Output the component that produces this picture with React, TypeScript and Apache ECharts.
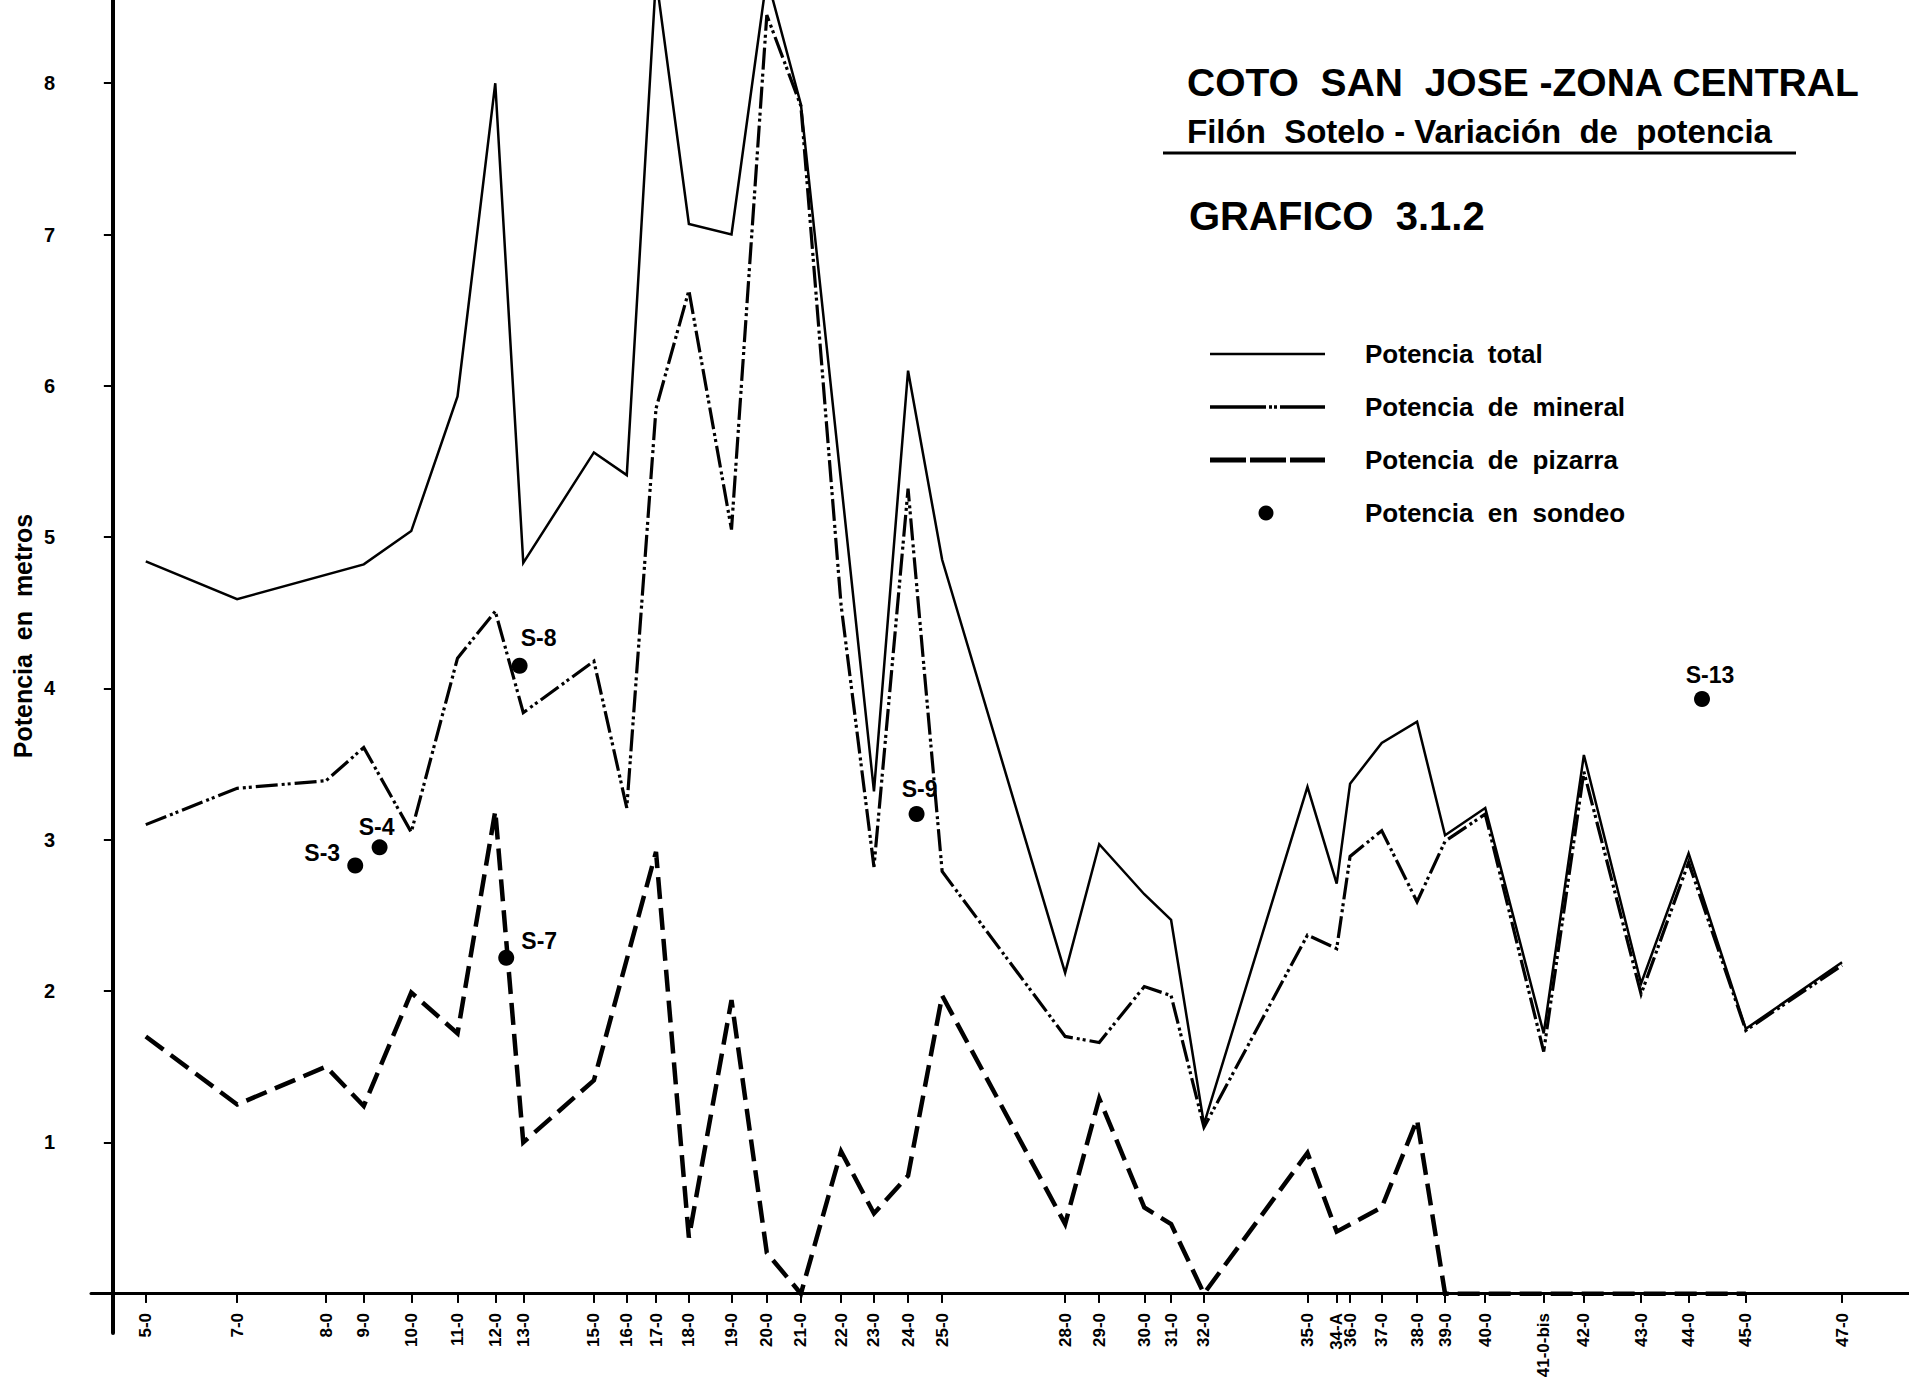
import React, { useEffect, useRef } from "react";
import * as echarts from "echarts";

// Stations along the vein and their position on the horizontal distance scale
const stations = [
  "5-0", "7-0", "8-0", "9-0", "10-0", "11-0", "12-0", "13-0", "15-0", "16-0",
  "17-0", "18-0", "19-0", "20-0", "21-0", "22-0", "23-0", "24-0", "25-0", "28-0",
  "29-0", "30-0", "31-0", "32-0", "35-0", "34-A", "36-0", "37-0", "38-0", "39-0",
  "40-0", "41-0-bis", "42-0", "43-0", "44-0", "45-0", "47-0",
];
const stationPos = [
  27, 102, 175, 206, 245, 283, 314, 337, 395, 422,
  446, 473, 508, 537, 565, 598, 625, 653, 681, 782,
  810, 847, 869, 896, 981, 1005, 1016, 1042, 1071, 1094,
  1127, 1175, 1208, 1255, 1294, 1341, 1420,
];

// Thickness in metres at each station (null = no reading at that station)
const potenciaTotal = [
  4.84, 4.59, null, 4.82, 5.04, 5.93, 8.0, 4.83, 5.56, 5.41,
  8.7, 7.07, 7.0, 8.7, 7.86, null, 3.32, 6.1, 4.85, 2.12,
  2.97, 2.64, 2.47, 1.12, 3.35, 2.71, 3.37, 3.64, 3.78, 3.03,
  3.21, 1.72, 3.56, 2.05, 2.91, 1.75, 2.19,
];
const potenciaMineral = [
  3.1, 3.34, 3.39, 3.61, 3.05, 4.2, 4.51, 3.84, 4.18, 3.21,
  5.85, 6.63, 5.05, 8.45, 7.85, 4.55, 2.82, 5.32, 2.79, 1.7,
  1.66, 2.03, 1.97, 1.1, 2.37, 2.28, 2.89, 3.06, 2.59, 2.99,
  3.17, 1.6, 3.45, 1.98, 2.85, 1.74, 2.17,
];
const potenciaPizarra = [
  1.7, 1.25, 1.5, 1.24, 1.99, 1.72, 3.19, 1.0, 1.41, null,
  2.92, 0.37, 1.94, 0.27, 0, 0.94, 0.53, 0.78, 1.97, 0.46,
  1.29, 0.57, 0.46, 0, 0.93, 0.41, null, 0.57, 1.15, 0,
  0, 0, 0, 0, 0, 0, null,
];

// Drill holes
const sondeoNames = ["S-3", "S-4", "S-8", "S-7", "S-9", "S-13"];
const sondeoPos = [199, 219, 334, 323, 660, 1305];
const sondeoValues = [2.83, 2.95, 4.15, 2.22, 3.17, 3.93];
const sondeoLabelOffset = [
  [-33, -12], [-3, -20], [19, -28], [33, -17], [3, -25], [8, -24],
];

const yTickValues = [1, 2, 3, 4, 5, 6, 7, 8];

const FONT = '"Liberation Sans", Arial, sans-serif';
const INK = "#000";

const pairs = (vals: (number | null)[]) =>
  stationPos
    .map((x, i) => [x, vals[i]])
    .filter((p) => p[1] !== null && p[1] !== undefined);

export default function App() {
  const ref = useRef<HTMLDivElement>(null);

  useEffect(() => {
    if (!ref.current) return;
    const chart = echarts.init(ref.current, null, { renderer: "svg" });

    const xCommon = {
      type: "value" as const,
      min: -18,
      max: 1475,
      splitLine: { show: false },
    };
    const yCommon = {
      type: "value" as const,
      min: -0.26,
      max: 8.55,
      splitLine: { show: false },
    };

    chart.setOption({
      animation: false,
      backgroundColor: "#fff",
      grid: {
        left: 91,
        right: 0,
        top: 0,
        bottom: 44,
        containLabel: false,
        outerBoundsMode: "none",
      },
      xAxis: [
        {
          ...xCommon,
          axisLine: { onZero: true, lineStyle: { color: INK, width: 3 } },
          axisTick: {
            customValues: stationPos,
            inside: false,
            length: 9,
            lineStyle: { color: INK, width: 2 },
          },
          axisLabel: {
            customValues: stationPos,
            rotate: 90,
            // labels are laid out from the grid's lower edge, below the zero line
            margin: -20,
            color: INK,
            fontSize: 17,
            fontWeight: "bold",
            fontFamily: FONT,
            formatter: (v: number) => {
              const i = stationPos.indexOf(v);
              return i >= 0 ? stations[i] : "";
            },
          },
        },
        {
          ...xCommon,
          axisLine: { show: false, onZero: true },
          axisTick: {
            customValues: stationPos,
            inside: true,
            length: 9,
            lineStyle: { color: INK, width: 2 },
          },
          axisLabel: { show: false },
        },
      ],
      yAxis: [
        {
          ...yCommon,
          axisLine: { onZero: true, lineStyle: { color: INK, width: 4 } },
          axisTick: {
            customValues: yTickValues,
            inside: false,
            length: 9,
            lineStyle: { color: INK, width: 2 },
          },
          axisLabel: {
            customValues: yTickValues,
            margin: 36,
            color: INK,
            fontSize: 20,
            fontWeight: "bold",
            fontFamily: FONT,
          },
        },
        {
          ...yCommon,
          axisLine: { show: false, onZero: true },
          axisTick: {
            customValues: yTickValues,
            inside: true,
            length: 9,
            lineStyle: { color: INK, width: 2 },
          },
          axisLabel: { show: false },
        },
      ],
      series: [
        {
          name: "Potencia de pizarra",
          type: "line",
          data: pairs(potenciaPizarra),
          connectNulls: true,
          symbol: "none",
          lineStyle: { color: INK, width: 4.5, type: [22, 9], cap: "butt", join: "miter" },
          z: 3,
        },
        {
          name: "Potencia de mineral",
          type: "line",
          data: pairs(potenciaMineral),
          connectNulls: true,
          symbol: "none",
          lineStyle: { color: INK, width: 3.2, type: [22, 4, 3, 3, 3, 4], cap: "butt", join: "miter" },
          z: 4,
        },
        {
          name: "Potencia total",
          type: "line",
          data: pairs(potenciaTotal),
          connectNulls: true,
          symbol: "none",
          lineStyle: { color: INK, width: 2.5, join: "miter" },
          z: 5,
        },
        {
          name: "Potencia en sondeo",
          type: "scatter",
          symbol: "circle",
          symbolSize: 16,
          itemStyle: { color: INK, opacity: 1 },
          data: sondeoPos.map((x, i) => ({
            value: [x, sondeoValues[i]],
            name: sondeoNames[i],
            label: {
              show: true,
              position: "inside",
              offset: sondeoLabelOffset[i],
              formatter: sondeoNames[i],
              color: INK,
              fontSize: 23,
              fontWeight: "bold",
              fontFamily: FONT,
            },
          })),
          z: 6,
        },
      ],
      graphic: [
        {
          type: "text",
          x: 23,
          y: 636,
          rotation: Math.PI / 2,
          style: {
            text: "Potencia  en  metros",
            font: `bold 25px ${FONT}`,
            fill: INK,
            textAlign: "center",
            textVerticalAlign: "middle",
          },
        },
        {
          type: "text",
          x: 1187,
          y: 82,
          style: {
            text: "COTO  SAN  JOSE -ZONA CENTRAL",
            font: `bold 39px ${FONT}`,
            fill: INK,
            textAlign: "left",
            textVerticalAlign: "middle",
          },
        },
        {
          type: "text",
          x: 1187,
          y: 131,
          style: {
            text: "Filón  Sotelo - Variación  de  potencia",
            font: `bold 33px ${FONT}`,
            fill: INK,
            textAlign: "left",
            textVerticalAlign: "middle",
          },
        },
        {
          type: "line",
          shape: { x1: 1163, y1: 153, x2: 1796, y2: 153 },
          style: { stroke: INK, lineWidth: 3 },
        },
        {
          type: "text",
          x: 1189,
          y: 216,
          style: {
            text: "GRAFICO  3.1.2",
            font: `bold 40px ${FONT}`,
            fill: INK,
            textAlign: "left",
            textVerticalAlign: "middle",
          },
        },
        // Legend
        {
          type: "line",
          shape: { x1: 1210, y1: 354, x2: 1325, y2: 354 },
          style: { stroke: INK, lineWidth: 2.5 },
        },
        {
          type: "line",
          shape: { x1: 1210, y1: 407, x2: 1325, y2: 407 },
          style: { stroke: INK, lineWidth: 3.5, lineDash: [56, 3, 3, 2, 3, 3, 54] },
        },
        {
          type: "line",
          shape: { x1: 1210, y1: 460, x2: 1325, y2: 460 },
          style: { stroke: INK, lineWidth: 5, lineDash: [36, 4] },
        },
        {
          type: "circle",
          shape: { cx: 1266, cy: 513, r: 7.5 },
          style: { fill: INK },
        },
        ...[
          ["Potencia  total", 354],
          ["Potencia  de  mineral", 407],
          ["Potencia  de  pizarra", 460],
          ["Potencia  en  sondeo", 513],
        ].map(([t, y]) => ({
          type: "text",
          x: 1365,
          y: y as number,
          style: {
            text: t as string,
            font: `bold 26px ${FONT}`,
            fill: INK,
            textAlign: "left",
            textVerticalAlign: "middle",
          },
        })),
      ],
    });

    return () => chart.dispose();
  }, []);

  return (
    <div
      ref={ref}
      style={{ position: "absolute", left: 0, top: 0, width: 1909, height: 1377, background: "#fff" }}
    />
  );
}
